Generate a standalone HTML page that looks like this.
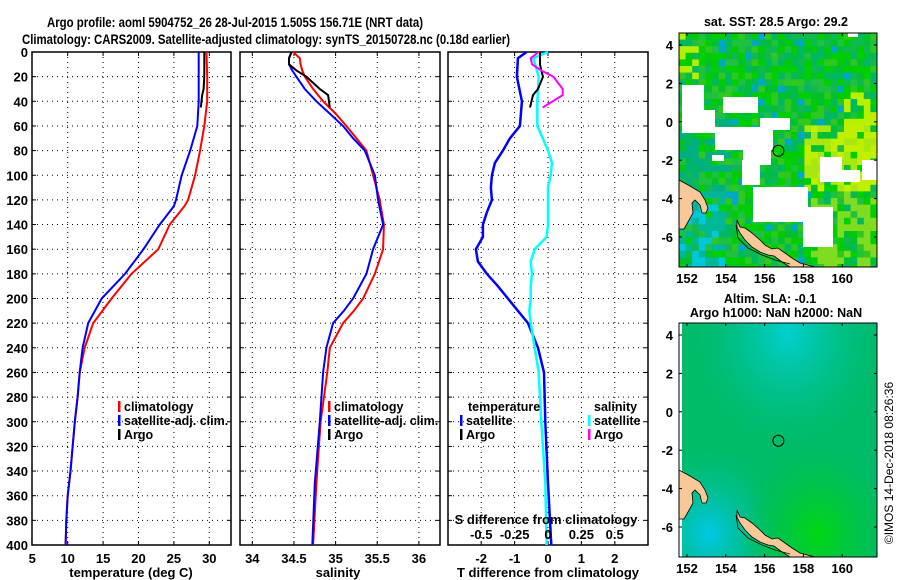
<!DOCTYPE html>
<html><head><meta charset="utf-8"><style>
body{margin:0;background:#fff;}
svg{display:block;font-family:"Liberation Sans",sans-serif;}
</style></head><body>
<svg id="fig" width="900" height="580" viewBox="0 0 900 580" xmlns="http://www.w3.org/2000/svg">
<rect width="900" height="580" fill="#fff"/>
<text x="47" y="27" font-size="14" font-weight="bold" textLength="376" lengthAdjust="spacingAndGlyphs">Argo profile: aoml 5904752_26 28-Jul-2015 1.505S 156.71E (NRT data)</text>
<text x="22" y="44" font-size="14" font-weight="bold" textLength="488" lengthAdjust="spacingAndGlyphs">Climatology: CARS2009. Satellite-adjusted climatology: synTS_20150728.nc (0.18d earlier)</text>
<g id="panels"></g>
<g id="maps"></g>
<text transform="translate(893,463) rotate(-90)" font-size="12" text-anchor="middle">©IMOS 14-Dec-2018 08:26:36</text>
</svg>
<script>
// ---- data ----
const tempDepth = [0,20,40,60,80,100,120,125,140,160,180,200,220,240,260,280,300,340,360,380,400];
const climT = [29.6,29.7,29.7,29.3,28.7,28.0,27.0,26.5,24.4,22.8,19.0,16.2,13.6,12.4,11.7,11.4,11.0,10.4,10.0,9.8,9.7];
const satT = [28.5,28.5,28.5,28.3,27.3,26.1,25.3,25.0,23.0,20.7,18.1,14.8,12.9,12.1,11.7,11.4,11.0,10.4,10.0,9.8,9.7];
const salDepth = [0,5,10,15,20,30,40,50,60,70,80,100,120,140,160,180,200,210,220,240,260,300,350,400];
const climS = [34.49,34.57,34.58,34.6,34.63,34.73,34.85,35.0,35.13,35.25,35.37,35.45,35.53,35.58,35.57,35.47,35.33,35.22,35.09,34.93,34.9,34.82,34.77,34.73];
const satS = [34.47,34.44,34.44,34.48,34.53,34.63,34.77,34.93,35.09,35.21,35.35,35.47,35.51,35.57,35.45,35.37,35.21,35.1,34.97,34.89,34.85,34.81,34.75,34.72];
const argoDepth = [0,5,10,15,20,30,35,45];
const argoT = [29.3,29.3,29.3,29.3,29.3,29.2,29.0,28.8];
const argoS = [34.47,34.44,34.44,34.53,34.65,34.81,34.91,34.93];
const diffDepth = [0,5,20,40,60,70,80,90,100,110,120,130,140,150,160,170,180,190,200,210,220,240,260,300,350,400];
const diffT = [-0.64,-0.9,-0.93,-0.78,-0.84,-1.14,-1.35,-1.59,-1.68,-1.71,-1.68,-1.83,-1.95,-1.95,-2.16,-2.1,-1.83,-1.5,-1.2,-0.9,-0.6,-0.3,-0.12,-0.08,0.0,0.1];
const diffS = [0,-0.11,-0.07,-0.08,-0.08,-0.04,0,0.03,0.02,0,0,0,0,-0.01,-0.1,-0.13,-0.12,-0.13,-0.13,-0.14,-0.13,-0.1,-0.07,-0.05,-0.02,-0.01];
const argoDiffT = [-0.24,-0.24,-0.24,-0.2,-0.15,-0.3,-0.45,-0.54];
const argoDiffS = [-0.07,-0.13,-0.12,-0.05,0.04,0.11,0.11,-0.04];
const depthTicks = [0,20,40,60,80,100,120,140,160,180,200,220,240,260,280,300,320,340,360,380,400];
const tTicks = [5,10,15,20,25,30];
const sTicks = [34,34.5,35,35.5,36];
const dTTicks = [-2,-1,0,1,2];
const dSTicks = [-0.5,-0.25,0,0.25,0.5];
const dSTickLabels = ['-0.5','-0.25','0','0.25','0.5'];

const NS='http://www.w3.org/2000/svg';
function mk(tag,attrs,parent){const e=document.createElementNS(NS,tag);for(const k in attrs)e.setAttribute(k,attrs[k]);parent.appendChild(e);return e;}
const P=document.getElementById('panels');
const TOP=52,BOT=545;
const yD=d=>TOP+d*(BOT-TOP)/400;
const xT=v=>32.3+(v-5)*7.08;
const xS=v=>252.3+(v-34)*83.3;
const xDT=v=>548+v*33.4;
const xDS=v=>548+v*133.4;
const panels=[{x0:32,x1:231,name:'temperature-panel'},{x0:240,x1:440,name:'salinity-panel'},{x0:448,x1:648,name:'difference-panel'}];

function grid(p,xs){
  for(const d of depthTicks){if(d===0||d===400)continue;
    const l=mk('line',{x1:p.x0,x2:p.x1,y1:yD(d),y2:yD(d),stroke:'#000','stroke-width':1,'stroke-dasharray':'1,4'},P);
    
    mk('line',{x1:p.x0,x2:p.x0+4,y1:yD(d),y2:yD(d),stroke:'#000'},P);
    mk('line',{x1:p.x1-4,x2:p.x1,y1:yD(d),y2:yD(d),stroke:'#000'},P);
  }
  for(const x of xs){
    const l=mk('line',{x1:x,x2:x,y1:TOP,y2:BOT,stroke:'#000','stroke-width':1,'stroke-dasharray':'1,4'},P);
    
    mk('line',{x1:x,x2:x,y1:TOP,y2:TOP+4,stroke:'#000'},P);
    mk('line',{x1:x,x2:x,y1:BOT-4,y2:BOT,stroke:'#000'},P);
  }
  const r=mk('rect',{x:p.x0,y:TOP,width:p.x1-p.x0,height:BOT-TOP,fill:'none',stroke:'#000','stroke-width':1.5},P);
  
}
function line(vals,depths,xf,color,name,w){
  const pts=vals.map((v,i)=>xf(v).toFixed(1)+','+yD(depths[i]).toFixed(1)).join(' ');
  const l=mk('polyline',{points:pts,fill:'none',stroke:color,'stroke-width':w||2},P);
  
}
function txt(x,y,s,opts,name){
  const t=mk('text',Object.assign({x:x,y:y,'font-size':13,'font-weight':'bold'},opts||{}),P);t.textContent=s;
  return t;
}
function legItem(x,y,color,label,name){
  mk('rect',{x:x,y:y-10,width:2.5,height:11,fill:color},P);
  txt(x+6,y,label,{'font-size':12.5},name);
}
// panel 1
grid(panels[0],tTicks.slice(1).map(xT));
line(climT,tempDepth,xT,'#f00','temperature-climatology-line');
line(satT,tempDepth,xT,'#00f','temperature-satellite-line');
line(argoT,argoDepth,xT,'#000','temperature-argo-line');
for(const d of depthTicks)txt(28,yD(d)+5,String(d),{'text-anchor':'end'},'depth-tick-label');
for(const v of tTicks)txt(xT(v),563,String(v),{'text-anchor':'middle'},'temperature-tick-label');
txt(131,577,'temperature (deg C)',{'text-anchor':'middle'},'temperature-axis-title');
legItem(118,411,'#f00','climatology','legend-climatology');
legItem(118,425,'#00f','satellite-adj. clim.','legend-satellite-adj');
legItem(118,439,'#000','Argo','legend-argo');
// panel 2
grid(panels[1],sTicks.map(xS));
line(climS,salDepth,xS,'#f00','salinity-climatology-line');
line(satS,salDepth,xS,'#00f','salinity-satellite-line');
line(argoS,argoDepth,xS,'#000','salinity-argo-line');
for(let i=0;i<sTicks.length;i++)txt(xS(sTicks[i]),563,String(sTicks[i]),{'text-anchor':'middle'},'salinity-tick-label');
txt(338,577,'salinity',{'text-anchor':'middle'},'salinity-axis-title');
legItem(328,411,'#f00','climatology','legend-climatology');
legItem(328,425,'#00f','satellite-adj. clim.','legend-satellite-adj');
legItem(328,439,'#000','Argo','legend-argo');
// panel 3
grid(panels[2],dTTicks.map(xDT));
line(diffT,diffDepth,xDT,'#00f','temperature-difference-line',2.5);
line(diffS,diffDepth,xDS,'#0ff','salinity-difference-line',2.5);
line(argoDiffT,argoDepth,xDT,'#000','argo-temperature-difference-line');
line(argoDiffS,argoDepth,xDS,'#f0f','argo-salinity-difference-line');
for(const v of dTTicks)txt(xDT(v),563,String(v),{'text-anchor':'middle'},'t-difference-tick-label');
txt(548,577,'T difference from climatology',{'text-anchor':'middle'},'t-difference-axis-title');
for(let i=0;i<dSTicks.length;i++)txt(xDS(dSTicks[i]),539,dSTickLabels[i],{'text-anchor':'middle'},'s-difference-tick-label');
txt(546,524,'S difference from climatology',{'text-anchor':'middle'},'s-difference-axis-title');
txt(468,411,'temperature',{'font-size':12.5},'legend-temperature-heading');
legItem(460,425,'#00f','satellite','legend-temperature-satellite');
legItem(460,439,'#000','Argo','legend-temperature-argo');
txt(594,411,'salinity',{'font-size':12.5},'legend-salinity-heading');
legItem(588,425,'#0ff','satellite','legend-salinity-satellite');
legItem(588,439,'#f0f','Argo','legend-salinity-argo');

// ---- maps ----
const M=document.getElementById('maps');
const lonTicks=[152,154,156,158,160];
const latTicks=[4,2,0,-2,-4,-6];
const mapLon=v=>687+(v-152)*19.4;
const mapLat=(v,off)=>off+45+(4-v)*19.2;
function h(i,j){let n=(i*374761393+j*668265263)>>>0;n=((n^(n>>>13))*1274126177)>>>0;return (n%1000)/1000;}
function map(off,name,isSST){
  const g=mk('g',{},M);
  const X0=679,X1=877,Y0=off+33,Y1=off+267;
  if(isSST){
    mk('rect',{x:X0,y:Y0,width:X1-X0,height:Y1-Y0,fill:'#10c040'},g);
    const cs=6.6;const greens=['#00cc00','#00c030','#10b850','#00d000','#20c040','#00b860','#30c820'];
    for(let j=0;j*cs<Y1-Y0;j++)for(let i=0;i*cs<X1-X0;i++){
      const x=X0+i*cs,y=Y0+j*cs;let c=greens[Math.floor(h(i,j)*greens.length)];
      const r=h(j+7,i+3);
      if(x>800&&y>125&&y<190&&r<0.75)c=r<0.4?'#c0f000':'#a8e810';
      else if(x>840&&y>90&&y<130&&r<0.6)c='#b8f000';
      else if(x>810&&y>185&&r<0.5)c='#80dc20';
      else if(x<700&&y<75&&r<0.35)c='#b0f000';
      else if(x<720&&y>185&&r<0.7)c=r<0.3?'#00c8d8':'#00b898';
      else if(x<730&&y>110&&y<190&&r<0.4)c='#00b080';
      else if(r<0.06)c='#00a8c8';
      mk('rect',{x:x,y:y,width:cs+0.3,height:Math.min(cs+0.3,Y1-y),fill:c},g);
    }
    const white=[[682,85,22,25],[682,110,33,23],[715,127,58,23],[723,97,35,16],[743,150,28,15],[760,118,30,12],[712,155,12,6],
      [742,160,18,25],[753,187,55,35],[803,207,30,40],[820,157,22,25],[773,203,32,15],[862,160,15,20],[848,33,10,4],[840,170,20,12]];
    for(const w of white)mk('rect',{x:w[0],y:w[1],width:w[2],height:w[3],fill:'#fff'},g);
  } else {
    const gid='sla'+off;
    const d=mk('defs',{},g);
    const rg=mk('radialGradient',{id:gid+'a',cx:'0.55',cy:'0.05',r:'0.45'},d);
    mk('stop',{offset:'0','stop-color':'#00d0d0'},rg);mk('stop',{offset:'1','stop-color':'#00c0a0','stop-opacity':'0'},rg);
    const rg2=mk('radialGradient',{id:gid+'b',cx:'0.15',cy:'0.9',r:'0.35'},d);
    mk('stop',{offset:'0','stop-color':'#00c8e8'},rg2);mk('stop',{offset:'1','stop-color':'#00c0a0','stop-opacity':'0'},rg2);
    const rg3=mk('radialGradient',{id:gid+'c',cx:'0.7',cy:'0.9',r:'0.4'},d);
    mk('stop',{offset:'0','stop-color':'#00d810'},rg3);mk('stop',{offset:'1','stop-color':'#00c040','stop-opacity':'0'},rg3);
    mk('rect',{x:X0,y:Y0,width:X1-X0,height:Y1-Y0,fill:'#00bc6a'},g);
    mk('rect',{x:X0,y:Y0,width:X1-X0,height:Y1-Y0,fill:'url(#'+gid+'a)'},g);
    mk('rect',{x:X0,y:Y0,width:X1-X0,height:Y1-Y0,fill:'url(#'+gid+'b)'},g);
    mk('rect',{x:X0,y:Y0,width:X1-X0,height:Y1-Y0,fill:'url(#'+gid+'c)'},g);
    mk('rect',{x:X0,y:Y0,width:3,height:Y1-Y0,fill:'#fff'},g);
  }
  const o=off;
  mk('polygon',{points:`679,${180+o} 690,${186+o} 700,${192+o} 705,${200+o} 708,${208+o} 706,${213+o} 702,${213+o} 700,${205+o} 695,${200+o} 692,${203+o} 693,${213+o} 688,${222+o} 684,${229+o} 679,${229+o}`,fill:'#f8c898',stroke:'#000','stroke-width':0.8},g);
  mk('polygon',{points:`737,${220+o} 740,${227+o} 745,${228+o} 752,${233+o} 760,${240+o} 765,${245+o} 772,${249+o} 778,${248+o} 785,${253+o} 792,${258+o} 800,${263+o} 815,${267+o} 790,${267+o} 782,${262+o} 774,${256+o} 768,${255+o} 760,${252+o} 752,${247+o} 745,${240+o} 740,${233+o} 737,${227+o}`,fill:'#f8c898',stroke:'#000','stroke-width':0.8},g);
  mk('polyline',{points:`736,${225+o} 738,${238+o} 748,${248+o} 762,${255+o} 775,${260+o} 790,${264+o}`,fill:'none',stroke:'#000','stroke-width':0.8},g);
  const c=mk('circle',{cx:mapLon(156.71),cy:mapLat(-1.505,off),r:5.5,fill:'none',stroke:'#000','stroke-width':1},g);
  
  mk('rect',{x:X0,y:Y0,width:X1-X0,height:Y1-Y0,fill:'none',stroke:'#000','stroke-width':1},g);
  for(const v of lonTicks){const x=mapLon(v);mk('line',{x1:x,x2:x,y1:Y0,y2:Y0+3,stroke:'#000'},g);mk('line',{x1:x,x2:x,y1:Y1-3,y2:Y1,stroke:'#000'},g);
    const t=mk('text',{x:x,y:Y1+16,'font-size':13,'font-weight':'bold','text-anchor':'middle'},g);t.textContent=v;
    }
  for(const v of latTicks){const y=mapLat(v,off);mk('line',{x1:X0,x2:X0+3,y1:y,y2:y,stroke:'#000'},g);mk('line',{x1:X1-3,x2:X1,y1:y,y2:y,stroke:'#000'},g);
    const t=mk('text',{x:673,y:y+5,'font-size':13,'font-weight':'bold','text-anchor':'end'},g);t.textContent=v;
    }
}
map(0,'sst-map',true);
map(290,'sla-map',false);
function mt(x,y,s,name){const t=mk('text',{x:x,y:y,'font-size':12.5,'font-weight':'bold','text-anchor':'middle'},M);t.textContent=s;
  }
mt(776,26,'sat. SST: 28.5 Argo: 29.2','sst-map-title');
mt(770,303,'Altim. SLA: -0.1','sla-map-title');
mt(776,317,'Argo h1000: NaN h2000: NaN','sla-map-subtitle');
</script>
</body></html>
